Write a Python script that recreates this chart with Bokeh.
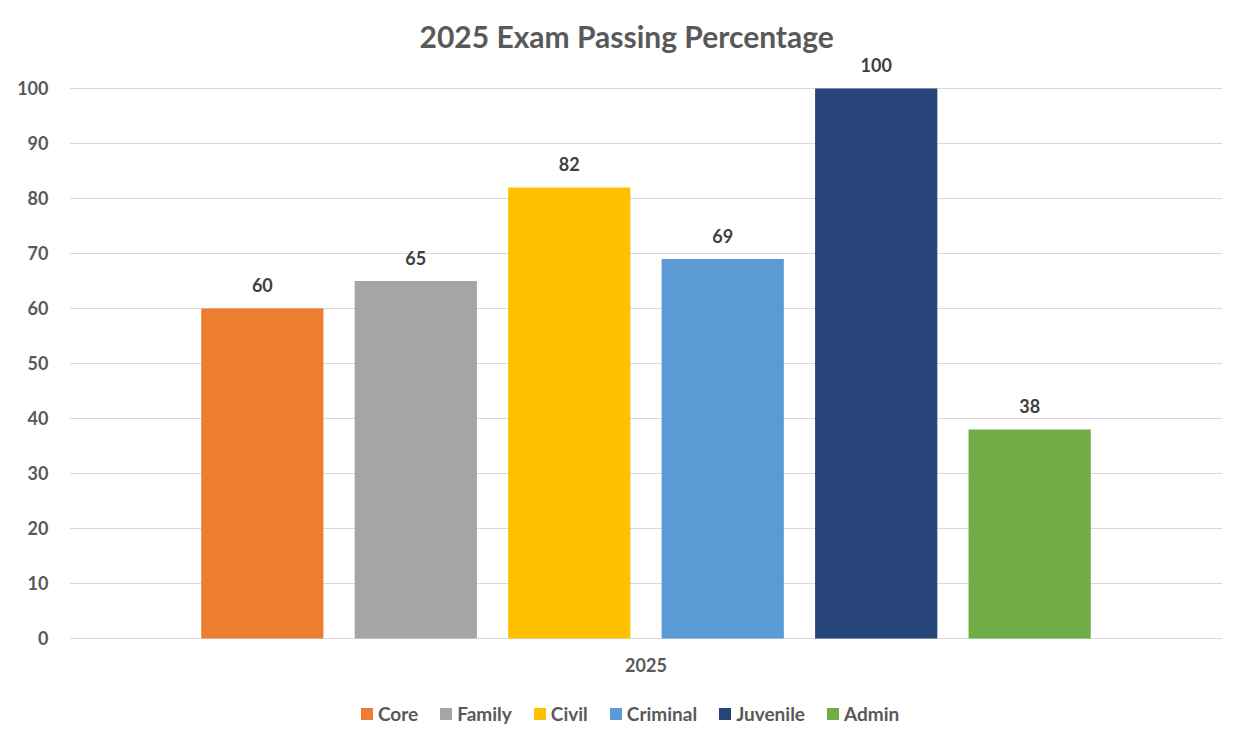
from bokeh.plotting import figure
from bokeh.models import ColumnDataSource, FactorRange, Range1d, FixedTicker, Legend, LegendItem, LabelSet
from bokeh.transform import dodge
from bokeh.core.properties import value
from bokeh.embed import file_html
from bokeh.resources import INLINE

title_text = "2025 Exam Passing Percentage"
year = "2025"
series = ["Core", "Family", "Civil", "Criminal", "Juvenile", "Admin"]
values = [60, 65, 82, 69, 100, 38]
colors = ["#ED7D31", "#A5A5A5", "#FFC000", "#5B9BD5", "#264478", "#70AD47"]
y_ticks = [0, 10, 20, 30, 40, 50, 60, 70, 80, 90, 100]

FONT = "Lato"
TXT = "#595959"

# px per unit = 5.5 ; frame spans from y=55 to y=730 of the canvas, 0 at y=638
p = figure(width=1231, height=730, x_range=FactorRange(year), y_range=Range1d(-16.73, 106),
           output_backend="svg", toolbar_location=None,
           min_border_left=69, min_border_right=9, min_border_top=55, min_border_bottom=0)
p.outline_line_color = None
p.background_fill_color = "white"
p.border_fill_color = "white"

p.title.text = title_text
p.title.align = "left"
p.title.offset = 350
p.title.text_font = FONT
p.title.text_font_style = "bold"
p.title.text_font_size = "30px"
p.title.text_color = TXT
p.title.standoff = 4

p.xgrid.grid_line_color = None
p.ygrid.grid_line_color = "#D9D9D9"
p.ygrid.grid_line_width = 1
p.yaxis.ticker = FixedTicker(ticks=y_ticks)
p.xaxis.visible = False

ax = p.yaxis
ax.axis_line_color = None
ax.major_tick_line_color = None
ax.minor_tick_line_color = None
ax.major_tick_out = 0
ax.major_tick_in = 0
ax.major_label_text_font = FONT
ax.major_label_text_font_style = "bold"
ax.major_label_text_font_size = "18px"
ax.major_label_text_color = TXT
ax.major_label_standoff = 21

# category label under the bars (x axis label)
cat_src = ColumnDataSource(dict(year=[year], base=[0]))
p.add_layout(LabelSet(x="year", y="base", text="year", source=cat_src,
                      text_align="center", text_baseline="middle", y_offset=-27,
                      text_font=value(FONT), text_font_style="bold", text_font_size="18px",
                      text_color=TXT))

n = len(series)
pitch = 0.1331
bw = 0.106
items = []
for i, (name, v, c) in enumerate(zip(series, values, colors)):
    off = (i - (n - 1) / 2) * pitch
    src = ColumnDataSource(dict(year=[year], value=[v], label=[str(v)]))
    r = p.vbar(x=dodge("year", off, range=p.x_range), top="value", width=bw, source=src,
               fill_color=c, line_color=None)
    items.append(LegendItem(label=name, renderers=[r]))
    lbl = LabelSet(x=dodge("year", off, range=p.x_range), y="value", text="label", source=src,
                   text_align="center", text_baseline="alphabetic", y_offset=16,
                   text_font=value(FONT), text_font_style="bold", text_font_size="18px",
                   text_color="#404040")
    p.add_layout(lbl)

legend = Legend(items=items, orientation="horizontal", location=(290, 5),
                label_text_font=FONT, label_text_font_style="bold", label_text_font_size="19px",
                label_text_color=TXT, glyph_width=15, glyph_height=15, label_standoff=4,
                spacing=20, border_line_color=None, background_fill_alpha=0, padding=0, margin=0)
p.add_layout(legend, "center")

open("out.html", "w").write(file_html(p, INLINE))
